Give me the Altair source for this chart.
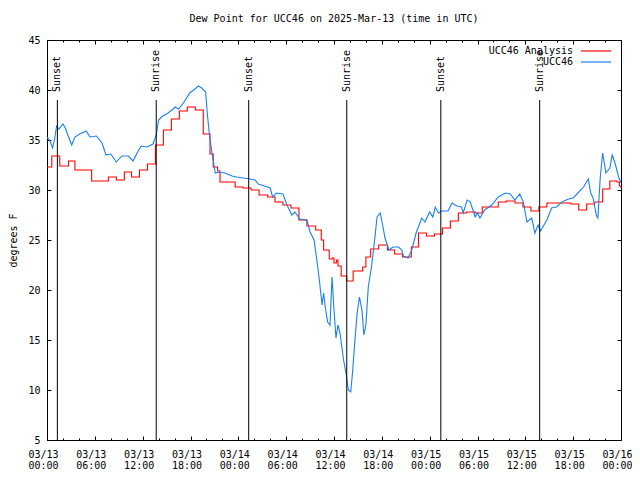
import altair as alt
import pandas as pd

FONT = "DejaVu Sans Mono"
title_text = "Dew Point for UCC46 on 2025-Mar-13 (time in UTC)"
y_title = "degrees F"
series_names = ["UCC46 Analysis", "UCC46"]
series_colors = ["#ff0000", "#1a80f0"]

# hours since 2025-03-13 00:00 UTC
red_hours = [0.0, 0.6, 1.6, 2.7, 3.5, 5.6, 7.7, 8.7, 9.7, 10.6, 11.6, 12.6, 13.6, 14.6, 15.6,
             16.6, 17.6, 18.6, 19.6, 20.45, 20.85, 21.4, 21.7, 23.6, 24.6, 25.6, 26.6, 27.7,
             28.6, 29.6, 30.6, 31.6, 32.6, 33.7, 34.4, 34.7, 35.4, 35.8, 36.0, 36.3, 36.5,
             36.9, 37.6, 38.4, 39.6, 40.0, 40.6, 41.6, 42.7, 43.6, 44.6, 45.7, 46.6, 47.6,
             48.6, 49.6, 50.6, 51.6, 52.6, 53.7, 54.6, 56.6, 57.6, 58.7, 59.7, 60.7, 61.7,
             62.7, 65.7, 66.7, 67.7, 68.7, 69.7, 70.6, 71.5, 71.8, 72.0]
red_vals = [32.3, 33.4, 32.4, 32.9, 32.0, 30.9, 31.3, 31.0, 31.8, 31.3, 32.0, 32.6, 34.5, 36.0,
            37.1, 37.9, 38.3, 38.0, 35.6, 33.6, 32.3, 31.9, 30.8, 30.3, 30.2, 30.0, 29.5, 29.3,
            28.8, 28.5, 28.2, 27.0, 26.4, 26.0, 25.0, 24.0, 23.1, 23.2, 22.7, 23.0, 22.4, 21.4,
            20.9, 21.9, 22.3, 23.3, 24.1, 24.5, 24.0, 23.6, 23.3, 24.3, 25.7, 25.4, 25.6, 26.2,
            26.9, 27.7, 27.8, 27.7, 28.3, 28.8, 28.9, 28.7, 28.3, 27.9, 28.3, 28.7, 28.6, 28.0,
            28.6, 28.8, 30.1, 30.9, 30.8, 30.4, 30.2]

blue_hours = [0.0, 0.3, 0.7, 1.0, 1.2, 1.5, 2.0, 2.3, 2.7, 3.1,
              3.5, 4.1, 4.9, 5.4, 6.2, 6.9, 7.4, 8.0, 8.7, 9.4,
              10.2, 10.8, 11.3, 11.8, 12.5, 13.3, 13.7, 14.0, 14.5, 15.2,
              16.1, 16.5, 17.2, 17.9, 18.4, 19.0, 19.4, 19.9, 20.1, 20.4,
              20.7, 21.1, 21.7, 22.3, 23.2, 23.8, 24.6, 25.5, 26.1, 26.5,
              26.9, 28.0, 28.3, 28.8, 29.6, 30.1, 30.7, 31.1, 31.7, 32.6,
              33.0, 33.5, 33.9, 34.2, 34.5, 34.7, 34.9, 35.2, 35.5, 35.75,
              36.0, 36.25, 36.5, 36.75, 37.2, 37.5, 37.8, 38.1, 38.35, 38.6,
              38.9, 39.2, 39.5, 39.75, 40.0, 40.3, 40.7, 41.1, 41.4, 41.8,
              42.1, 42.4, 42.9, 43.4, 44.1, 44.5, 44.7, 45.3, 45.75, 46.3,
              47.0, 47.4, 48.0, 48.4, 48.7, 49.1, 49.5, 50.3, 50.8, 51.4,
              52.0, 52.2, 52.7, 53.1, 53.7, 54.0, 54.3, 54.9, 55.8, 56.6,
              57.5, 58.1, 58.7, 59.3, 59.75, 60.2, 60.8, 61.2, 61.6, 61.9,
              62.7, 63.3, 63.9, 64.6, 65.4, 66.0, 66.6, 67.3, 67.9, 68.2,
              68.5, 68.9, 69.1, 69.4, 69.7, 70.1, 70.6, 70.9, 71.25, 71.7,
              72.0]
blue_vals = [35.3, 35.0, 34.2, 35.3, 36.4, 36.1, 36.6, 36.2, 35.3, 34.5,
             35.3, 35.6, 35.9, 35.3, 35.4, 34.7, 33.5, 33.6, 32.8, 33.4,
             33.4, 32.9, 33.7, 34.4, 34.3, 34.6, 35.5, 37.0, 37.4, 37.7,
             38.3, 38.1, 38.8, 39.7, 40.0, 40.4, 40.2, 39.8, 37.7, 35.3,
             33.7, 31.7, 31.8, 31.7, 31.4, 31.3, 31.2, 31.1, 31.0, 30.6,
             30.5, 30.2, 29.3, 29.7, 29.6, 28.5, 27.5, 27.8, 27.1, 27.0,
             25.8, 25.0, 22.7, 20.7, 18.5, 19.7, 18.3, 16.8, 16.5, 21.3,
             18.0, 15.2, 16.5, 15.7, 13.0, 11.7, 10.0, 9.8, 12.0, 14.7,
             17.7, 19.3, 18.0, 15.5, 16.5, 20.3, 22.3, 25.0, 27.3, 27.7,
             26.5, 25.2, 24.0, 24.3, 24.3, 24.0, 23.4, 23.2, 24.0, 25.7,
             27.2, 26.8, 27.8, 27.3, 28.3, 27.7, 27.9, 27.9, 28.7, 28.4,
             28.3, 27.7, 29.0, 28.8, 27.3, 27.7, 27.2, 28.0, 28.5, 29.3,
             29.7, 29.6, 29.0, 29.6, 28.8, 26.8, 27.2, 25.7, 26.5, 25.9,
             27.0, 28.2, 28.3, 28.8, 29.1, 29.2, 29.7, 30.3, 31.1, 29.7,
             29.2, 27.5, 27.2, 31.3, 33.7, 31.7, 32.2, 33.5, 32.7, 31.3,
             30.7]

sun_hours = [1.3, 13.7, 25.3, 37.6, 49.4, 61.8]
sun_labels = ["Sunset", "Sunrise", "Sunset", "Sunrise", "Sunset", "Sunrise"]

tick_hours = list(range(0, 73, 6))
tick_dates = ["03/13"] * 4 + ["03/14"] * 4 + ["03/15"] * 4 + ["03/16"]
tick_times = ["00:00", "06:00", "12:00", "18:00"] * 3 + ["00:00"]
minor_hours = [h for h in range(0, 73, 2) if h % 6]
y_ticks = list(range(5, 46, 5))

assert len(red_hours) == len(red_vals)
assert len(blue_hours) == len(blue_vals)

red_df = pd.DataFrame({"h": red_hours, "v": red_vals, "series": series_names[0]})
blue_df = pd.DataFrame({"h": blue_hours, "v": blue_vals, "series": series_names[1]})
sun_df = pd.DataFrame({"h": sun_hours, "label": sun_labels})

label_expr = "[" + ",".join(f"['{d}','{t}']" for d, t in zip(tick_dates, tick_times)) + "][round(datum.value/6)]"

x_scale = alt.Scale(domain=[0, 72], nice=False, zero=False)
y_scale = alt.Scale(domain=[5, 45], nice=False, zero=False)
color_scale = alt.Scale(domain=series_names, range=series_colors)

legend = alt.Legend(title=None, orient="none", legendX=543, legendY=5,
                    symbolType="M-3,0H3", symbolSize=100, symbolStrokeWidth=1.2,
                    labelAlign="right", labelOffset={"expr": "-29"}, labelFont=FONT,
                    labelFontSize=10, labelColor="black", rowPadding=0, padding=0)

common_tick = dict(domain=False, grid=False, title=None, tickColor="black", tickWidth=1)

red = alt.Chart(red_df).mark_line(interpolate="step-after", strokeWidth=1.1, clip=True).encode(
    x=alt.X("h:Q", scale=x_scale, axis=alt.Axis(
        orient="bottom", values=tick_hours, labelExpr=label_expr, tickSize=4, offset=-4,
        labelPadding=9.5, labelFont=FONT, labelFontSize=10, labelColor="black",
        labelFlush=False, labelOverlap=False, labelLineHeight=11,
        labelOffset={"expr": "-4"}, labelBaseline="top", **common_tick)),
    y=alt.Y("v:Q", scale=y_scale, axis=alt.Axis(
        orient="left", values=y_ticks, tickSize=4, offset=-4, labelPadding=7,
        labelFont=FONT, labelFontSize=10, labelColor="black", labelFlush=False,
        labelOverlap=False, domain=False, grid=False, tickColor="black",
        title=y_title, titleFont=FONT, titleFontSize=10, titleFontWeight="normal",
        titleColor="black", titleX=-35, titleY=200, titleAngle=270,
        titleBaseline="alphabetic", titleAlign="center")),
    color=alt.Color("series:N", scale=color_scale, legend=legend),
)

blue = alt.Chart(blue_df).mark_line(strokeWidth=1.1, clip=True).encode(
    x=alt.X("h:Q", scale=x_scale, axis=alt.Axis(
        orient="top", values=tick_hours, tickSize=4, offset=-4, labels=False, **common_tick)),
    y=alt.Y("v:Q", scale=y_scale, axis=alt.Axis(
        orient="right", values=y_ticks, tickSize=4, offset=-4, labels=False, **common_tick)),
    color=alt.Color("series:N", scale=color_scale, legend=legend),
)

rules = alt.Chart(sun_df).mark_rule(color="black", strokeWidth=1).encode(
    x=alt.X("h:Q", scale=x_scale, axis=alt.Axis(
        orient="bottom", values=minor_hours, tickSize=2, offset=-2, labels=False, **common_tick)),
    y=alt.YDatum(39, scale=y_scale, axis=None),
    y2=alt.Y2Datum(5),
)

texts = alt.Chart(sun_df).mark_text(color="black", font=FONT, fontSize=10, angle=270,
                                     align="left", baseline="middle").encode(
    x=alt.X("h:Q", scale=x_scale, axis=alt.Axis(
        orient="top", values=minor_hours, tickSize=2, offset=-2, labels=False, **common_tick)),
    y=alt.YDatum(39.8, scale=y_scale, axis=None),
    text="label:N",
)

chart = alt.layer(red, blue, rules, texts).resolve_axis(
    x="independent", y="independent"
).properties(
    width=574, height=400,
    title=alt.TitleParams(title_text, font=FONT, fontSize=10, fontWeight="normal",
                          color="black", anchor="middle", offset=11),
    padding={"left": 39, "top": 32, "right": 11, "bottom": 32},
    autosize=alt.AutoSizeParams(type="none"),
    background="white",
).configure_view(stroke="black", strokeWidth=1)

chart.save("out.html", embed_options={"renderer": "svg", "actions": False})
